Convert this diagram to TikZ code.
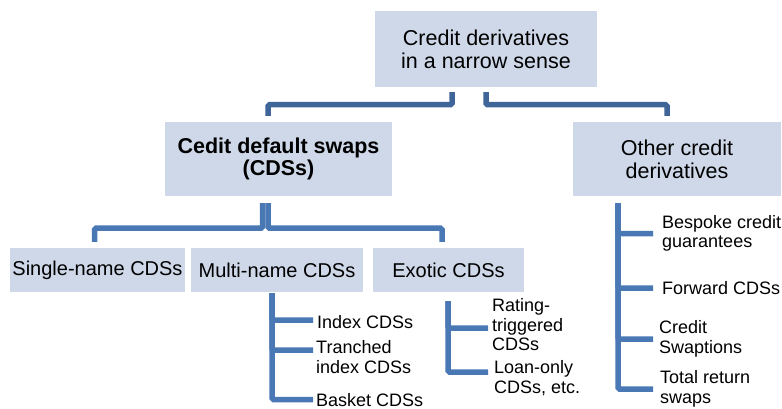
\documentclass[tikz,border=0pt]{standalone}
\usepackage{fontspec}
\setmainfont{Liberation Sans}
\definecolor{boxfill}{RGB}{206,216,232}
\definecolor{linkdark}{RGB}{63,101,153}
\definecolor{linklight}{RGB}{74,120,180}

\tikzset{
  box/.style={fill=boxfill, inner sep=0pt, align=center},
  bigtext/.style={font=\fontsize{21.5}{23}\selectfont},
  midtext/.style={font=\fontsize{20}{22}\selectfont},
  leaf/.style={anchor=west, inner sep=0pt, align=left, font=\fontsize{18}{19.5}\selectfont},
  link/.style={draw=linklight, line width=5.5pt, rounded corners=1.5pt},
}

\begin{document}
\begin{tikzpicture}[x=1pt, y=-1pt]
\useasboundingbox (0,0) rectangle (782,409);

%% boxes
\node[box, bigtext, minimum width=222pt, minimum height=76pt] (top) at (486,49) {Credit derivatives\\in a narrow sense};
\node[box, font=\fontsize{21.5}{22}\selectfont\bfseries, minimum width=227pt, minimum height=74pt] (cds) at (278.5,159) {Cedit default swaps\\(CDSs)};
\node[box, bigtext, minimum width=208pt, minimum height=74pt] (other) at (677,159) {Other credit\\derivatives};

\node[box, midtext, minimum width=175pt, minimum height=44pt] (single) at (97.5,270) {Single-name CDSs};
\node[box, midtext, minimum width=172pt, minimum height=44pt] (multi) at (277,270) {Multi-name CDSs};
\node[box, midtext, minimum width=151pt, minimum height=44pt] (exotic) at (448.5,270) {Exotic CDSs};

%% leaves
\node[leaf] (index) at (317,322) {Index CDSs};
\node[leaf] (tranched) at (316,357) {Tranched\\index CDSs};
\node[leaf] (basket) at (316,400.5) {Basket CDSs};
\node[leaf] (rating) at (492,325) {Rating-\\triggered\\CDSs};
\node[leaf] (loan) at (494,378) {Loan-only\\CDSs, etc.};
\node[leaf] (bespoke) at (662,233.5) {Bespoke credit\\guarantees};
\node[leaf] (forward) at (662,288) {Forward CDSs};
\node[leaf] (swaption) at (659,339) {Credit\\Swaptions};
\node[leaf] (trs) at (660,389) {Total return\\swaps};

%% first level
\draw[link, draw=linkdark] ([xshift=-34pt]top.south) ++(0,5) -- ++(0,12.5) -| ([xshift=-10.5pt,yshift=6pt]cds.north);
\draw[link, draw=linkdark] (top.south) ++(0,5) -- ++(0,12.5) -| ([xshift=-10pt,yshift=6pt]other.north);

%% second level
\draw[link] ([xshift=-16pt]cds.south) ++(0,7) -- ++(0,25) -| ([xshift=-3pt,yshift=6pt]single.north);
\draw[link] ([xshift=-10.5pt]cds.south) ++(0,7) -- ++(0,25) -| ([xshift=-6.5pt,yshift=6pt]exotic.north);

%% trunks with branches
\coordinate (mtrunk) at ([xshift=-5pt,yshift=-1pt]multi.south);
\coordinate (etrunk) at ([xshift=-0.5pt,yshift=-9pt]exotic.south);
\coordinate (otrunk) at ([xshift=-59pt,yshift=-7pt]other.south);

\foreach \leaf/\dx/\dy in {index/-4/2, tranched/-3/7, basket/-3/1}
  \draw[link] (mtrunk) |- ([xshift=\dx pt,yshift=\dy pt]\leaf.west);
\foreach \leaf/\dx/\dy in {rating/-4/-3, loan/-6/6}
  \draw[link] (etrunk) |- ([xshift=\dx pt,yshift=\dy pt]\leaf.west);
\foreach \leaf/\dx in {bespoke/-9, forward/-9, swaption/-6, trs/-7}
  \draw[link] (otrunk) |- ([xshift=\dx pt]\leaf.west);
\end{tikzpicture}
\end{document}
